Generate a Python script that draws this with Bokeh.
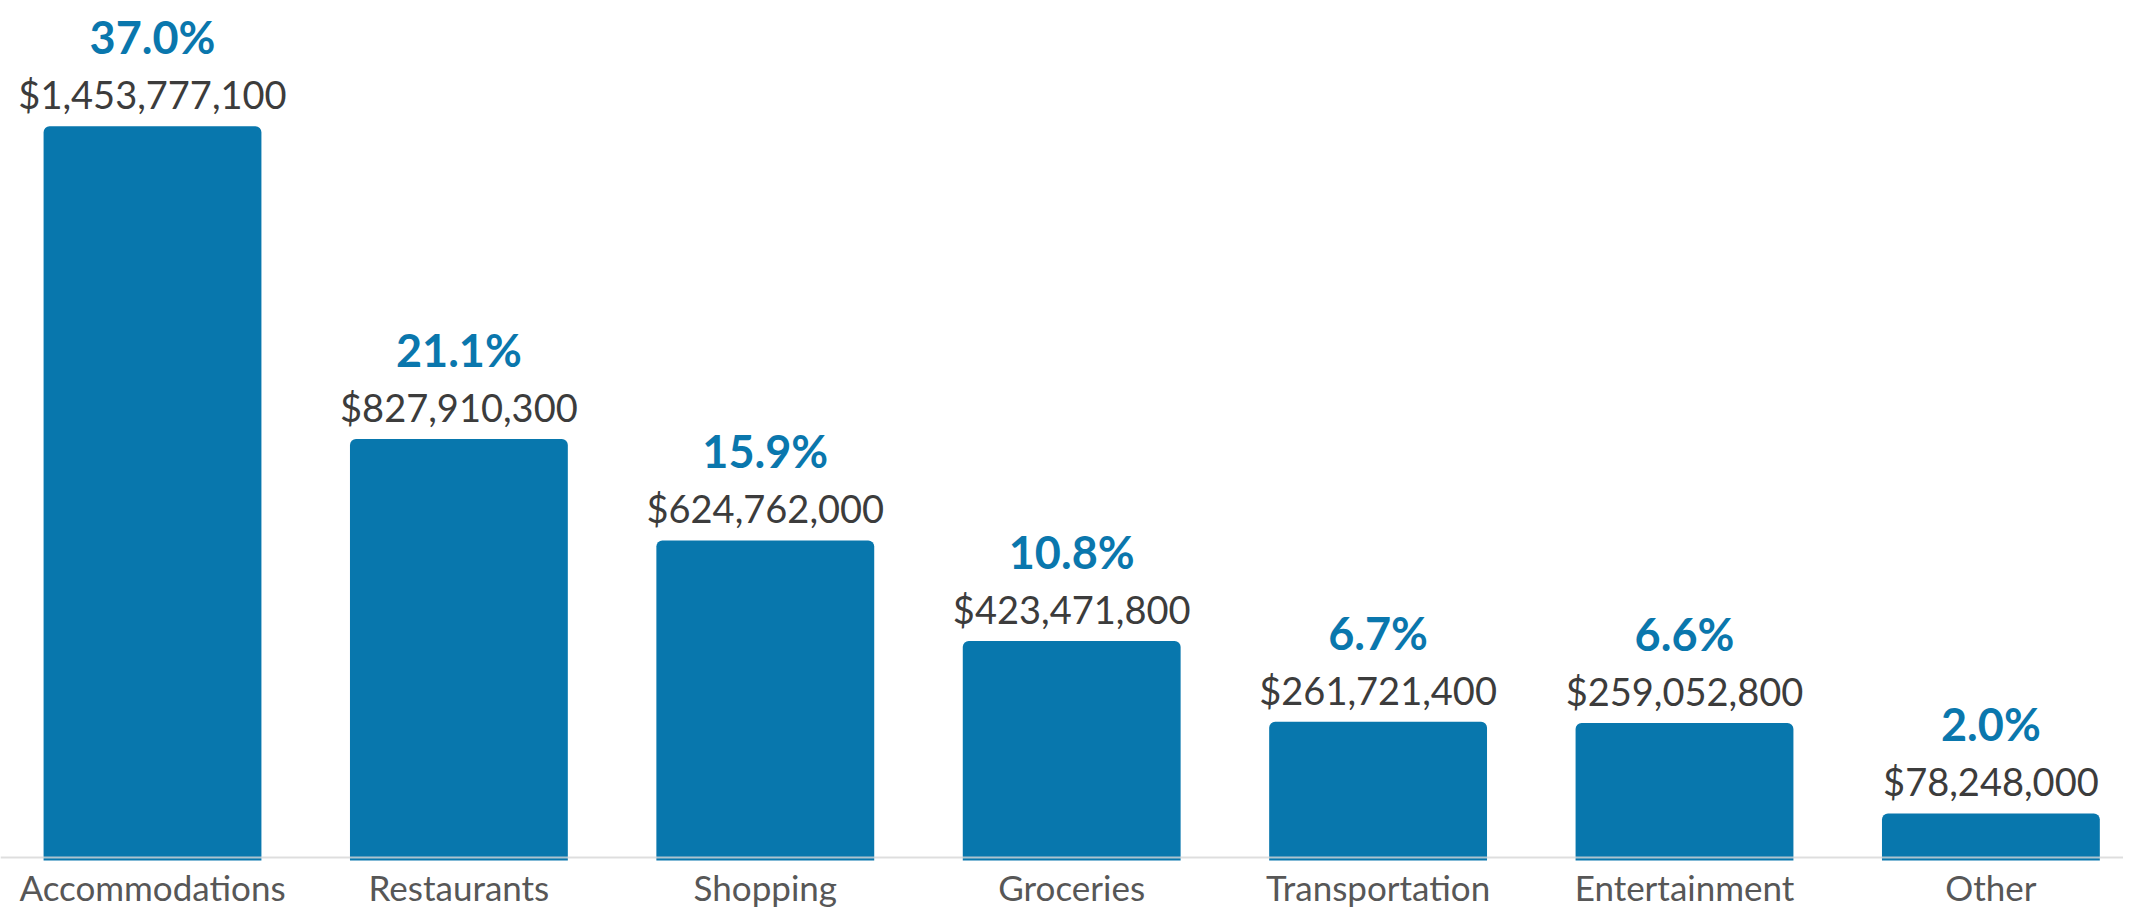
from bokeh.plotting import figure
from bokeh.models import ColumnDataSource, Range1d, Span
from bokeh.core.properties import value
from bokeh.embed import file_html
from bokeh.resources import INLINE
import numpy as np

categories = ["Accommodations", "Restaurants", "Shopping", "Groceries",
              "Transportation", "Entertainment", "Other"]
amounts = [1453777100, 827910300, 624762000, 423471800, 261721400, 259052800, 78248000]
shares = [37.0, 21.1, 15.9, 10.8, 6.7, 6.6, 2.0]

W, H = 2123, 907
px_per_unit = 0.4995e-6          # screen pixels per dollar
zero_px = 852                    # screen y of value zero (from top)
cat_step = 306.4                 # pixels between category centres
first_center = 152

x0 = -first_center / cat_step
x1 = x0 + W / cat_step
y1 = zero_px / px_per_unit
y0 = -(H - zero_px) / px_per_unit

xs = np.arange(len(categories))
src = ColumnDataSource(dict(
    x=xs,
    cat=categories,
    amt=amounts,
    bottom=[-8 / px_per_unit] * len(categories),
    amt_label=["${:,}".format(a) for a in amounts],
    pct_label=["{:.1f}%".format(s) for s in shares],
    zero=[0] * len(categories),
))

p = figure(width=W, height=H, output_backend="svg", toolbar_location=None,
           x_range=Range1d(x0, x1), y_range=Range1d(y0, y1),
           x_axis_type=None, y_axis_type=None, min_border=0,
           outline_line_color=None, background_fill_color="white",
           border_fill_color="white")
p.grid.visible = False

p.vbar(x="x", top="amt", bottom="bottom", width=0.711, source=src,
       fill_color="#0877AD", line_color=None, border_radius=(6, 6, 0, 0))

p.add_layout(Span(location=-5 / px_per_unit, dimension="width",
                  line_color="#d6d6d6", line_alpha=0.8, line_width=2))

p.text(x="x", y="amt", text="amt_label", source=src, text_align="center",
       text_baseline="alphabetic", y_offset=-32,
       text_font=value("Lato"), text_font_size="38px", text_color="#3c3c3c")

p.text(x="x", y="amt", text="pct_label", source=src, text_align="center",
       text_baseline="alphabetic", y_offset=-89,
       text_font=value("Lato"), text_font_style="bold",
       text_font_size="45px", text_color="#0A77AD")

p.text(x="x", y="zero", text="cat", source=src, text_align="center",
       text_baseline="alphabetic", y_offset=34,
       text_font=value("Lato"), text_font_size="35px", text_color="#575757")

open("out.html", "w").write(file_html(p, INLINE))
